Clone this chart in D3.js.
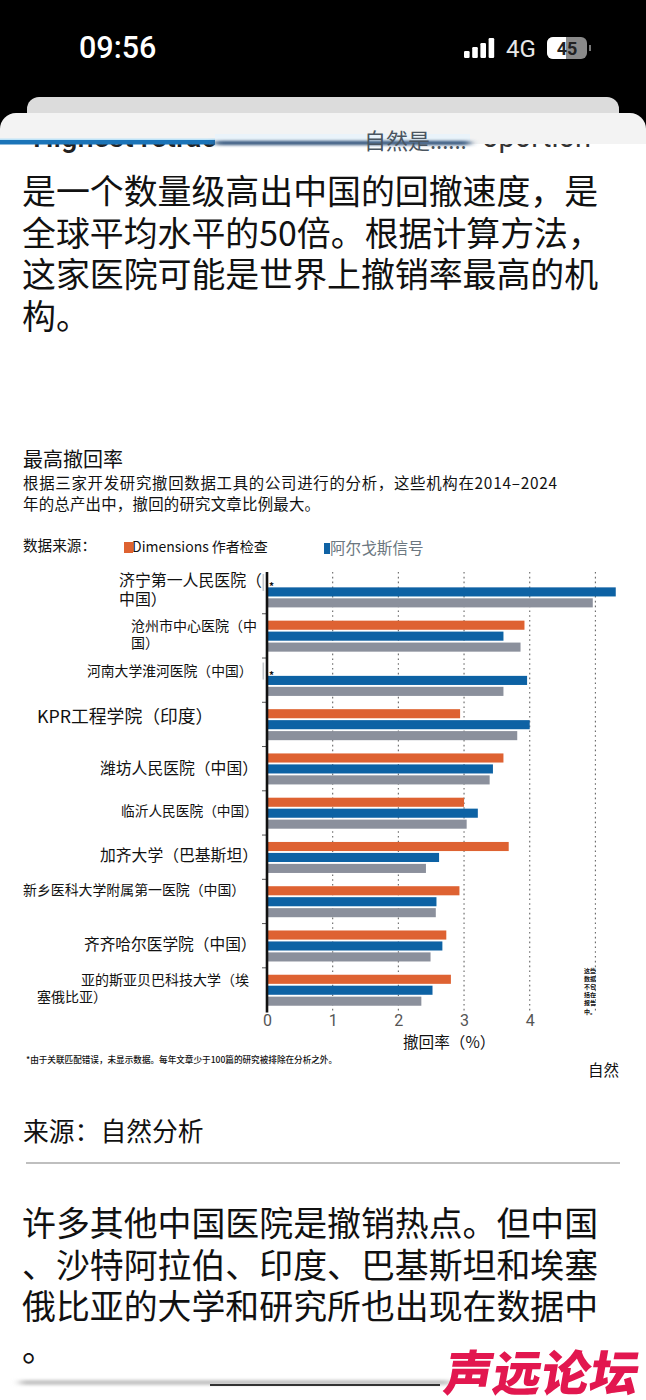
<!DOCTYPE html>
<html>
<head>
<meta charset="utf-8">
<script src="https://cdn.jsdelivr.net/npm/d3@7"></script>
<style>
  html, body { margin: 0; padding: 0; background: #fff; }
  svg { display: block; }
  text { font-family: "Noto Sans CJK SC", "Noto Sans", sans-serif; fill: #111; }
</style>
</head>
<body>
<svg id="chart" width="646" height="1400"></svg>
<script>
// values, in percent
var institutes = ["济宁", "沧州", "河南", "KPR", "潍坊", "临沂", "加齐", "新乡", "齐齐哈尔", "亚的斯亚贝巴"];
var dimensions = [null, 3.92, null, 2.94, 3.60, 3.00, 3.68, 2.93, 2.73, 2.80];
var argos      = [5.31, 3.60, 3.96, 4.00, 3.44, 3.21, 2.62, 2.58, 2.67, 2.52];
var third      = [4.96, 3.86, 3.60, 3.81, 3.39, 3.04, 2.42, 2.57, 2.49, 2.35];
var seriesNames = ["dimensions", "argos", "third"];
var xTickValues = [0, 1, 2, 3, 4];
var gridValues = [1, 2, 3, 4, 5];
var labelLines = [
  ["济宁第一人民医院（", "中国）"],
  ["沧州市中心医院（中", "国）"],
  ["河南大学淮河医院（中国）"],
  ["KPR工程学院（印度）"],
  ["潍坊人民医院（中国）"],
  ["临沂人民医院（中国）"],
  ["加齐大学（巴基斯坦）"],
  ["新乡医科大学附属第一医院（中国）"],
  ["齐齐哈尔医学院（中国）"],
  ["亚的斯亚贝巴科技大学（埃", "塞俄比亚）"]
];
var topLines = ["是一个数量级高出中国的回撤速度，是", "全球平均水平的50倍。根据计算方法，", "这家医院可能是世界上撤销率最高的机", "构。"];
var bottomLines = ["许多其他中国医院是撤销热点。但中国", "、沙特阿拉伯、印度、巴基斯坦和埃塞", "俄比亚的大学和研究所也出现在数据中", "。"];
var noteLines = ["这些", "数据", "不包", "括在", "报告", "中。"];

var colors = {dimensions: "#de6231", argos: "#0f62a4", third: "#8b909c"};

// the label sizes and spots in the picture are uneven, so they are set one by one
var labelSpots = [
  {x: 119, y: 586, size: 15.9, gap: 19},
  {x: 131, y: 631, size: 14, gap: 17},
  {x: 87, y: 676, size: 13.8, gap: 0},
  {x: 37, y: 723, size: 17.8, gap: 0},
  {x: 100, y: 774, size: 15.8, gap: 0},
  {x: 121, y: 816, size: 13.7, gap: 0},
  {x: 100, y: 861, size: 15.8, gap: 0},
  {x: 23, y: 895, size: 13.9, gap: 0},
  {x: 84, y: 950, size: 15.7, gap: 0},
  {x: 81, y: 985, size: 14, gap: 17}
];

var svg = d3.select("#chart");

var defs = svg.append("defs");
defs.append("clipPath").attr("id", "headClip")
  .append("rect").attr("x", 0).attr("y", 144).attr("width", 646).attr("height", 12);
defs.append("filter").attr("id", "soft").append("feGaussianBlur").attr("stdDeviation", 0.45);
defs.append("filter").attr("id", "smear")
  .attr("x", "-10%").attr("width", "120%").attr("y", "-300%").attr("height", "700%")
  .append("feGaussianBlur").attr("stdDeviation", "4 1.6");

function addText(parent, str, x, y, size, opts) {
  opts = opts || {};
  return parent.append("text")
    .attr("x", x).attr("y", y)
    .style("font-size", size + "px")
    .style("font-weight", opts.weight || 400)
    .style("fill", opts.fill || "#111")
    .attr("text-anchor", opts.anchor || "start")
    .text(str);
}

/* phone header */
var head = svg.append("g");
head.append("rect").attr("width", 646).attr("height", 130).attr("fill", "#000");
head.append("rect").attr("x", 27).attr("y", 97).attr("width", 592).attr("height", 40).attr("rx", 12).attr("fill", "#dcdcdc");
head.append("rect").attr("x", 0).attr("y", 113).attr("width", 646).attr("height", 60).attr("rx", 16).attr("fill", "#f3f3f3");
head.append("rect").attr("x", 0).attr("y", 144).attr("width", 646).attr("height", 1256).attr("fill", "#fff");
addText(head, "09:56", 79, 58, 30.5, {fill: "#fff", weight: 500}).style("font-family", "Roboto");

var signal = [7, 11, 15, 20];
signal.forEach(function(h, i) {
  head.append("rect").attr("x", 464 + i * 8.2).attr("y", 58 - h).attr("width", 5.6).attr("height", h).attr("rx", 1.2).attr("fill", "#fff");
});
addText(head, "4G", 506, 57, 24, {fill: "#e8e8e8"}).style("font-family", "Roboto");
head.append("rect").attr("x", 547).attr("y", 37).attr("width", 40).attr("height", 22).attr("rx", 6).attr("fill", "#8a8a8a");
head.append("path").attr("d", "M553,37H566V59H553a6,6 0 0 1 -6,-6V43a6,6 0 0 1 6,-6Z").attr("fill", "#fff");
head.append("rect").attr("x", 589).attr("y", 45).attr("width", 2).attr("height", 6).attr("fill", "#777");
addText(head, "45", 567, 55, 18, {fill: "#222", weight: 700, anchor: "middle"}).style("font-family", "Roboto");

// half hidden headline under the bar
var cut = head.append("g").attr("clip-path", "url(#headClip)");
addText(cut, "Highest retrac", 33, 147, 29, {fill: "#222", weight: 500}).style("font-family", "Roboto");
addText(cut, "oportion", 482, 147, 29, {fill: "#333", weight: 400}).style("font-family", "Roboto");
head.append("rect").attr("x", 0).attr("y", 140).attr("width", 215).attr("height", 4.5).attr("fill", "#1b74b8");
head.append("rect").attr("x", 0).attr("y", 138.5).attr("width", 215).attr("height", 1.5).attr("fill", "#bfe3f7");
head.append("rect").attr("x", 215).attr("y", 134).attr("width", 255).attr("height", 8).attr("fill", "#eaf3fa");
head.append("rect").attr("x", 215).attr("y", 141).attr("width", 255).attr("height", 4).attr("fill", "#2a4f78").attr("filter", "url(#smear)");
addText(head, "自然是......", 364, 149, 22, {fill: "#4a5560"});

/* text above and below the chart */
var para = svg.append("g");
topLines.forEach(function(line, i) {
  addText(para, line, 22, 204 + i * 41.6, 33.9);
});
bottomLines.forEach(function(line, i) {
  addText(para, line, 22, 1236 + i * 41.5, 33.9);
});

addText(para, "最高撤回率", 23, 467, 20);
addText(para, "根据三家开发研究撤回数据工具的公司进行的分析，这些机构在2014–2024", 23, 489, 15.4).attr("textLength", 534);
addText(para, "年的总产出中，撤回的研究文章比例最大。", 23, 510, 15.4).attr("textLength", 297);

/* legend */
var legend = svg.append("g");
addText(legend, "数据来源：", 23, 551, 14.6);
legend.append("rect").attr("x", 124).attr("y", 542).attr("width", 9).attr("height", 11).attr("fill", colors.dimensions);
addText(legend, "Dimensions 作者检查", 132, 552, 14);
legend.append("rect").attr("x", 324).attr("y", 543).attr("width", 6).attr("height", 11).attr("fill", colors.argos);
addText(legend, "阿尔戈斯信号", 330, 554, 15.6, {fill: "#6b7780"});

/* chart */
var x = d3.scaleLinear().domain([0, 5]).range([267, 595.4]);
var y = d3.scaleBand().domain(institutes).range([569, 1011.6]);
var yInner = d3.scaleBand().domain(seriesNames).range([7.4, 38.4]).paddingInner(0.17).paddingOuter(0);
// tick marks sit between the bands
var yEdges = d3.scaleLinear().domain([0, institutes.length]).range([569, 1011.6]);

var plot = svg.append("g");

plot.selectAll(".grid")
  .data(gridValues)
  .enter().append("line")
    .attr("class", "grid")
    .attr("x1", function(d) { return x(d); })
    .attr("x2", function(d) { return x(d); })
    .attr("y1", 572)
    .attr("y2", 1012)
    .attr("stroke", "#666")
    .attr("stroke-width", 1.1)
    .attr("stroke-dasharray", "1.6 3.2");

var table = [
  {name: "dimensions", values: dimensions},
  {name: "argos", values: argos},
  {name: "third", values: third}
];

table.forEach(function(s) {
  plot.selectAll(".bar-" + s.name)
    .data(s.values.map(function(v, i) { return {v: v, inst: institutes[i]}; }).filter(function(d) { return d.v !== null; }))
    .enter().append("rect")
      .attr("class", "bar-" + s.name)
      .attr("x", x(0))
      .attr("y", function(d) { return y(d.inst) + yInner(s.name); })
      .attr("width", function(d) { return x(d.v) - x(0); })
      .attr("height", yInner.bandwidth())
      .attr("fill", colors[s.name])
      .attr("filter", "url(#soft)");
});

var xAxis = plot.append("g")
  .attr("transform", "translate(0,1012)")
  .call(d3.axisBottom(x).tickValues(xTickValues).tickSize(0).tickPadding(3).tickFormat(d3.format("d")));
xAxis.select(".domain").remove();
xAxis.selectAll("text")
  .style("font-family", "Roboto")
  .style("font-size", "16px")
  .style("fill", "#555");

var yAxis = plot.append("g")
  .attr("transform", "translate(267,0)")
  .call(d3.axisLeft(yEdges).tickValues(d3.range(1, institutes.length)).tickSize(5).tickFormat(""));
yAxis.select(".domain").remove();
yAxis.selectAll("line").attr("stroke", "#555").attr("stroke-width", 1);

plot.append("line")
  .attr("x1", x(0)).attr("x2", x(0))
  .attr("y1", 572).attr("y2", 1012.5)
  .attr("stroke", "#111")
  .attr("stroke-width", 2.6);

// rows with no Dimensions value
dimensions.forEach(function(v, i) {
  if (v !== null) return;
  var top = y(institutes[i]);
  addText(plot, "*", 269, top + 21, 10, {weight: 700});
  plot.append("rect").attr("x", 262.5).attr("y", top + 5).attr("width", 1.6).attr("height", 17).attr("fill", "#c4c8cc");
});

/* category labels */
var labels = svg.append("g");
labelLines.forEach(function(lines, i) {
  var spot = labelSpots[i];
  lines.forEach(function(line, k) {
    // the wrapped tail of the last row starts further left
    var lx = (i === 9 && k === 1) ? 37 : spot.x;
    addText(labels, line, lx, spot.y + k * spot.gap, spot.size);
  });
});

noteLines.forEach(function(line, i) {
  addText(svg, line, 584, 973 + i * 8.1, 6, {weight: 700});
});

addText(svg, "撤回率（%）", 403, 1048, 15.6);
addText(svg, "*由于关联匹配错误，未显示数据。每年文章少于100篇的研究被排除在分析之外。", 26, 1063, 8.6, {weight: 500});
addText(svg, "自然", 588, 1076, 15.5);
addText(svg, "来源：自然分析", 23, 1141, 25.8);
svg.append("line").attr("x1", 26).attr("x2", 620).attr("y1", 1163).attr("y2", 1163).attr("stroke", "#aaa").attr("stroke-width", 1.6);

/* bottom edge and site watermark */
svg.append("rect").attr("x", 20).attr("y", 1380).attr("width", 430).attr("height", 5).attr("fill", "#c4c4c4").attr("filter", "url(#smear)");
svg.append("rect").attr("x", 210).attr("y", 1384).attr("width", 230).attr("height", 2).attr("fill", "#333");
addText(svg, "声远论坛", 0, 0, 48.5, {fill: "#e2174f", weight: 900})
  .attr("transform", "translate(442,1391) skewX(-10)");
</script>
</body>
</html>
